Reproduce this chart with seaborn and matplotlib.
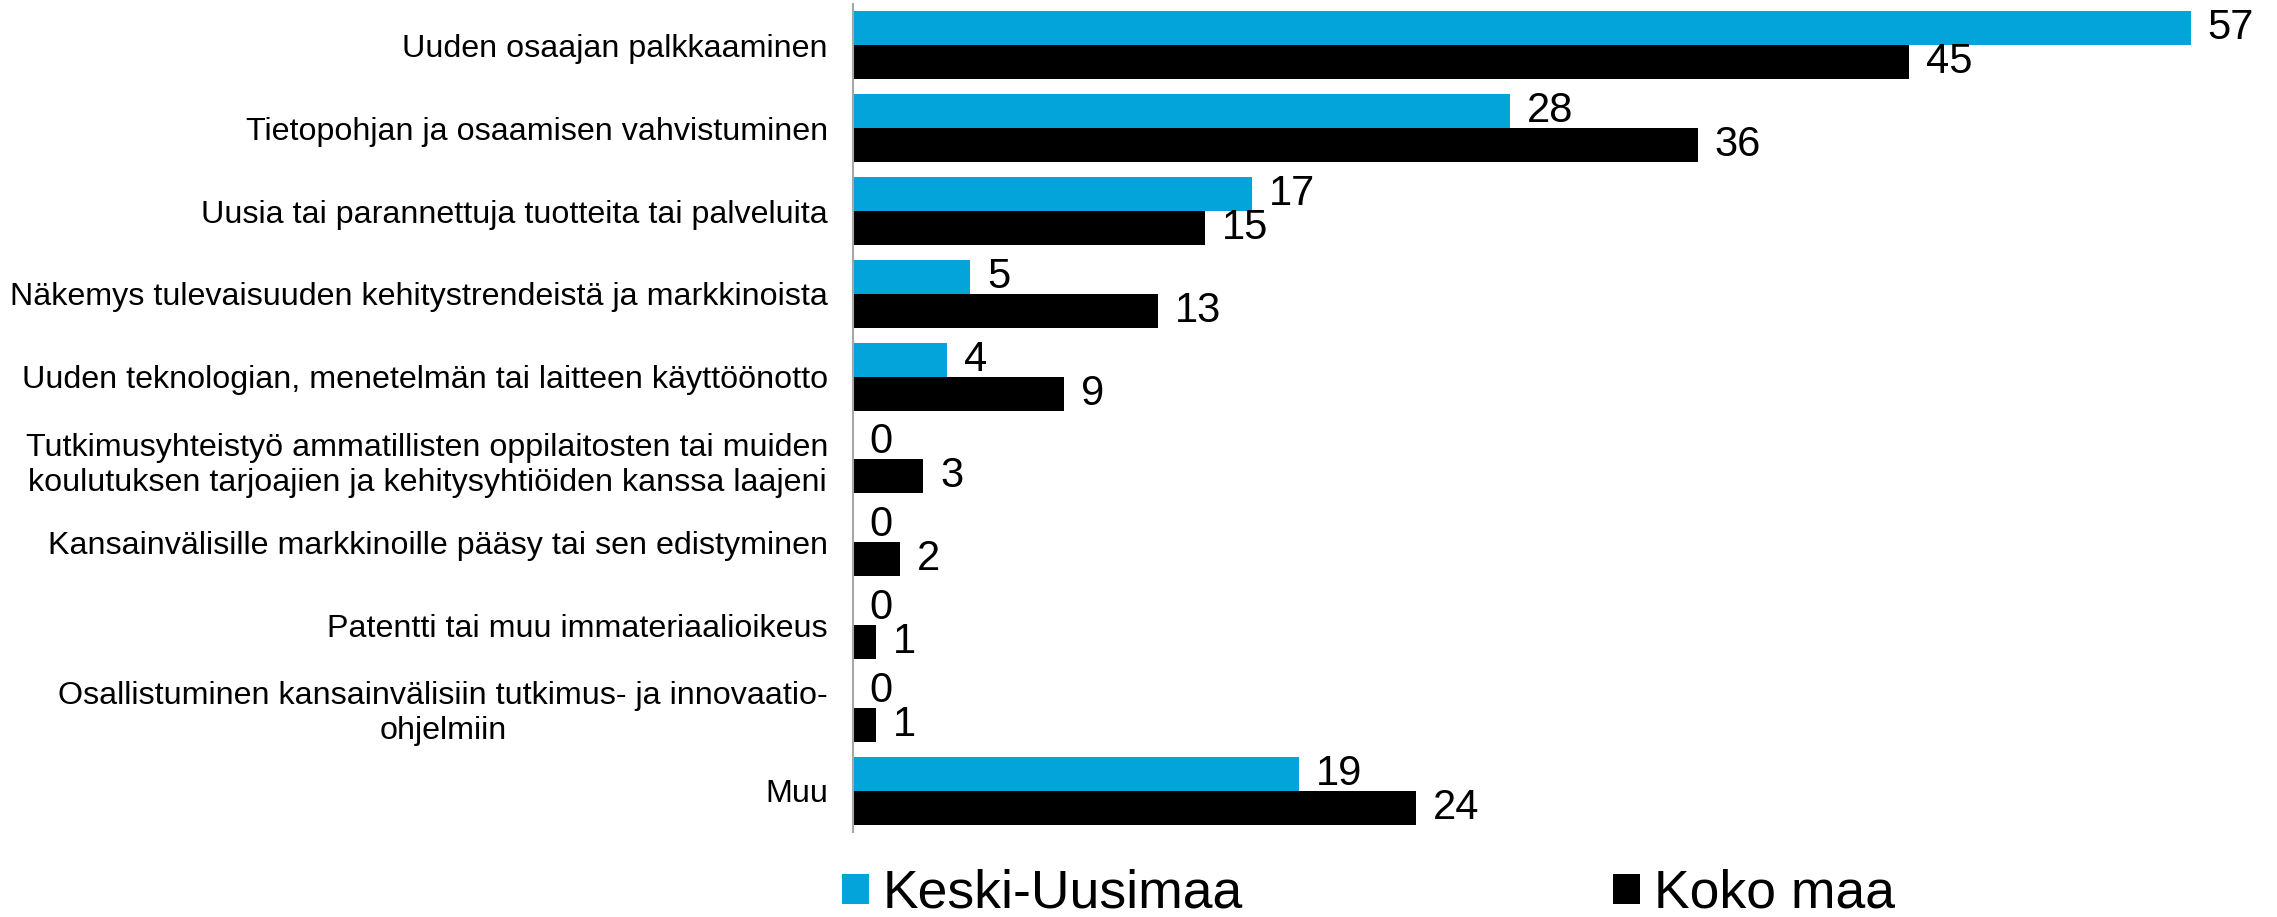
import matplotlib
matplotlib.use("Agg")
import matplotlib.pyplot as plt
import pandas as pd
import seaborn as sns

# Survey answers: share of respondents (%) per impact type
categories = [
    "Uuden osaajan palkkaaminen",
    "Tietopohjan ja osaamisen vahvistuminen",
    "Uusia tai parannettuja tuotteita tai palveluita",
    "Näkemys tulevaisuuden kehitystrendeistä ja markkinoista",
    "Uuden teknologian, menetelmän tai laitteen käyttöönotto",
    "Tutkimusyhteistyö ammatillisten oppilaitosten tai muiden\nkoulutuksen tarjoajien ja kehitysyhtiöiden kanssa laajeni",
    "Kansainvälisille markkinoille pääsy tai sen edistyminen",
    "Patentti tai muu immateriaalioikeus",
    "Osallistuminen kansainvälisiin tutkimus- ja innovaatio-\nohjelmiin",
    "Muu",
]
series_names = ["Keski-Uusimaa", "Koko maa"]
keski_uusimaa = [57, 28, 17, 5, 4, 0, 0, 0, 0, 19]
koko_maa = [45, 36, 15, 13, 9, 3, 2, 1, 1, 24]
colors = ["#02A4DA", "#000000"]

df = pd.DataFrame({
    "kategoria": categories * 2,
    "alue": [series_names[0]] * len(categories) + [series_names[1]] * len(categories),
    "arvo": keski_uusimaa + koko_maa,
})

sns.set_theme(style="white")
plt.rcParams["font.family"] = ["Liberation Sans", "DejaVu Sans"]
plt.rcParams["text.color"] = "black"

W, H = 2277, 917
fig = plt.figure(figsize=(W / 100, H / 100), dpi=100)
ax_left, ax_right = 853, 2261
ax_top, ax_bottom = 4, 832
ax = fig.add_axes([ax_left / W, 1 - ax_bottom / H,
                   (ax_right - ax_left) / W, (ax_bottom - ax_top) / H])

sns.barplot(data=df, y="kategoria", x="arvo", hue="alue", order=categories,
            hue_order=series_names, palette=colors, orient="h",
            width=0.82, saturation=1, ax=ax, linewidth=0)

ax.set_xlim(0, 60)
ax.set_ylim(len(categories) - 0.5, -0.5)

for container in ax.containers:
    ax.bar_label(container, fmt="%g", padding=12, fontsize=30, color="black")

ax.set_xlabel("")
ax.set_ylabel("")
ax.xaxis.set_visible(False)
ax.tick_params(axis="y", length=0, pad=18, labelsize=23.2, colors="black")
for lbl in ax.get_yticklabels():
    lbl.set_multialignment("center")

for side in ["top", "right", "bottom"]:
    ax.spines[side].set_visible(False)
ax.spines["left"].set_color("#A6A6A6")
ax.spines["left"].set_linewidth(1.5)

handles, labels = ax.get_legend_handles_labels()
ax.get_legend().remove()
fig.legend(handles, labels, loc="center left",
           bbox_to_anchor=(842 / W, 1 - 894 / H), ncol=2, frameon=False,
           fontsize=38.5, labelcolor="black", handlelength=0.5,
           handleheight=0.5, handletextpad=0.26, columnspacing=6.93,
           borderpad=0, borderaxespad=0)

fig.savefig("out.png", dpi=100, facecolor="white")
